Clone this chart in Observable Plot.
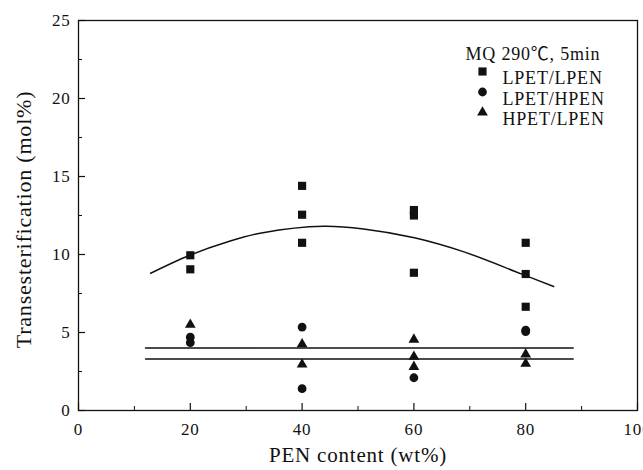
<!DOCTYPE html>
<html><head><meta charset="utf-8">
<script src="https://cdn.jsdelivr.net/npm/d3@7"></script>
<script src="https://cdn.jsdelivr.net/npm/@observablehq/plot@0.6"></script>
<style>
body{margin:0;background:#fff}
#chart svg{display:block;overflow:visible}
#chart svg text{letter-spacing:0.8px}
</style>
</head><body><div id="chart"></div>
<script>
// ---- data ----
const seriesNames = ["LPET/LPEN", "LPET/HPEN", "HPET/LPEN"];
const legendTitle = "MQ 290℃, 5min";
const lpetLpenX = [20, 20, 40, 40, 40, 60, 60, 60, 80, 80, 80];
const lpetLpenY = [9.95, 9.05, 14.4, 12.55, 10.75, 12.85, 12.5, 8.83, 10.75, 8.75, 6.65];
const lpetHpenX = [20, 20, 40, 40, 60, 80, 80];
const lpetHpenY = [4.7, 4.35, 5.35, 1.4, 2.1, 5.15, 5.05];
const hpetLpenX = [20, 40, 40, 60, 60, 60, 80, 80];
const hpetLpenY = [5.5, 4.25, 2.95, 4.55, 3.45, 2.8, 3.6, 3.0];
const curveX = [12.9, 19.8, 27, 33, 43.8, 51, 60.1, 69.1, 79.2, 85];
const curveY = [8.8, 9.94, 10.85, 11.4, 11.81, 11.64, 11.07, 10.15, 8.76, 7.95];
const flatX = [12, 88.5];
const flatUpperY = [4.0, 4.0];
const flatLowerY = [3.3, 3.3];
const xTicks = [0, 20, 40, 60, 80, 100];
const xMinor = [10, 30, 50, 70, 90];
const yTicks = [0, 5, 10, 15, 20, 25];
const yMinor = [2.5, 7.5, 12.5, 17.5, 22.5];
const xTitle = "PEN content (wt%)";
const yTitle = "Transesterification (mol%)";

const zip = (xs, ys) => xs.map((x, i) => ({x, y: ys[i]}));
const sq = zip(lpetLpenX, lpetLpenY);
const ci = zip(lpetHpenX, lpetHpenY);
const tr = zip(hpetLpenX, hpetLpenY);
const curve = zip(curveX, curveY);
const upper = zip(flatX, flatUpperY);
const lower = zip(flatX, flatLowerY);

const W = 643, H = 470, mL = 78, mR = 6, mT = 20, mB = 60;
const pw = W - mL - mR, ph = H - mT - mB;
const font = "'Liberation Serif', 'Noto Sans CJK SC', serif";
const symbols = ["square", "circle", "triangle"];
const symR = [4.6, 4.4, 4.0];

const chart = Plot.plot({
  width: W, height: H,
  marginLeft: mL, marginRight: mR, marginTop: mT, marginBottom: mB,
  style: {fontFamily: font, fontSize: "17px", color: "#111", background: "#fff"},
  x: {domain: [0, 100]},
  y: {domain: [0, 25]},
  marks: [
    Plot.frame({stroke: "#111", strokeWidth: 1.3}),
    Plot.tickX(xTicks, {x: d => d, insetTop: ph - 7, stroke: "#111", strokeWidth: 1.2}),
    Plot.tickX(xMinor, {x: d => d, insetTop: ph - 4, stroke: "#111", strokeWidth: 1}),
    Plot.tickY(yTicks, {y: d => d, insetRight: pw - 7, stroke: "#111", strokeWidth: 1.2}),
    Plot.tickY(yMinor, {y: d => d, insetRight: pw - 4, stroke: "#111", strokeWidth: 1}),
    Plot.axisX({ticks: xTicks, tickSize: 0, tickPadding: 12, label: null, fontSize: 17}),
    Plot.axisY({ticks: yTicks, tickSize: 0, tickPadding: 8, label: null, fontSize: 17}),
    Plot.text([xTitle], {frameAnchor: "bottom", dy: 51, fontSize: 21, fill: "#111"}),
    Plot.text([yTitle], {frameAnchor: "left", textAnchor: "middle", dx: -55, dy: 4, rotate: -90, fontSize: 22, fill: "#111"}),
    Plot.line(curve, {x: "x", y: "y", curve: "catmull-rom", stroke: "#111", strokeWidth: 1.5}),
    Plot.line(upper, {x: "x", y: "y", stroke: "#111", strokeWidth: 1.5}),
    Plot.line(lower, {x: "x", y: "y", stroke: "#111", strokeWidth: 1.5}),
    Plot.dot(sq, {x: "x", y: "y", symbol: "square", r: symR[0], fill: "#111", stroke: "none"}),
    Plot.dot(ci, {x: "x", y: "y", symbol: "circle", r: symR[1], fill: "#111", stroke: "none"}),
    Plot.dot(tr, {x: "x", y: "y", symbol: "triangle", r: symR[2], fill: "#111", stroke: "none"}),
    // legend
    Plot.text([legendTitle], {frameAnchor: "top-left", dx: 387, dy: 27, textAnchor: "start", fontSize: 18, fill: "#111"}),
    ...seriesNames.flatMap((name, i) => [
      Plot.dot([name], {frameAnchor: "top-left", dx: 404, dy: 51 + i * 20.5, symbol: symbols[i], r: symR[i], fill: "#111", stroke: "none"}),
      Plot.text([name], {frameAnchor: "top-left", dx: 424, dy: 51 + i * 20.5, textAnchor: "start", fontSize: 18, fill: "#111"})
    ])
  ]
});
document.getElementById("chart").appendChild(chart);
</script>
</body></html>
